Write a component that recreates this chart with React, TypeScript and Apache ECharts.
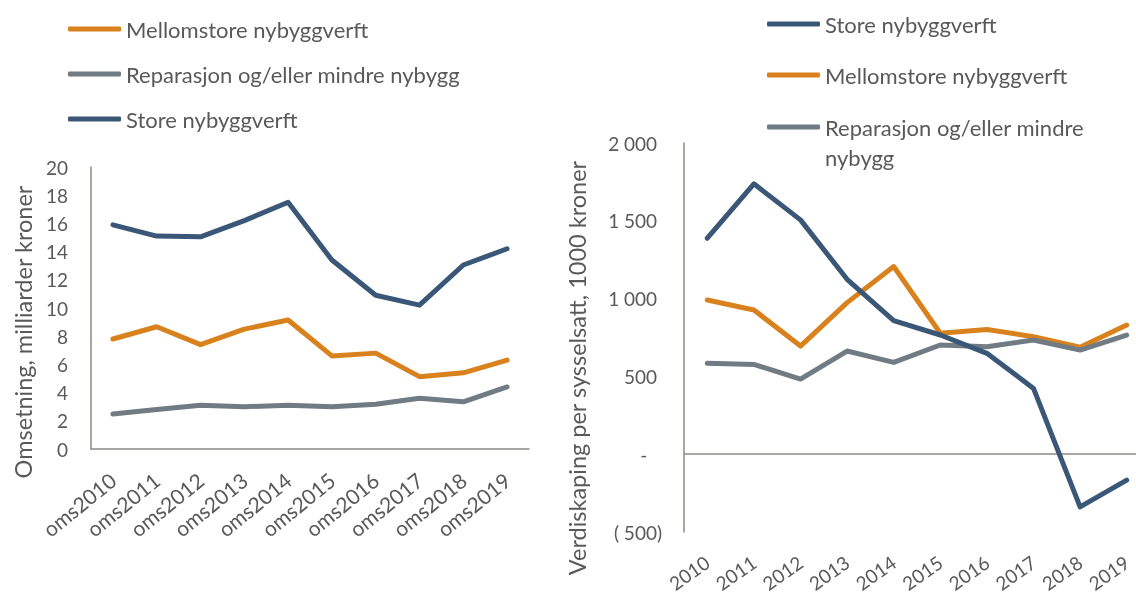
import React, { useEffect, useRef } from "react";
import * as echarts from "echarts";

const leftCategories = ["oms2010", "oms2011", "oms2012", "oms2013", "oms2014", "oms2015", "oms2016", "oms2017", "oms2018", "oms2019"];
const rightCategories = ["2010", "2011", "2012", "2013", "2014", "2015", "2016", "2017", "2018", "2019"];

const SERIES_STORE = "Store nybyggverft";
const SERIES_MELLOM = "Mellomstore nybyggverft";
const SERIES_REP = "Reparasjon og/eller mindre nybygg";

// Omsetning, milliarder kroner
const leftStore = [15.9, 15.1, 15.05, 16.2, 17.5, 13.4, 10.9, 10.2, 13.05, 14.2];
const leftMellom = [7.8, 8.67, 7.4, 8.5, 9.15, 6.6, 6.8, 5.13, 5.4, 6.3];
const leftRep = [2.48, 2.8, 3.1, 3.0, 3.1, 3.0, 3.17, 3.6, 3.35, 4.4];

// Verdiskaping per sysselsatt, 1000 kroner
const rightStore = [1388, 1738, 1506, 1124, 858, 766, 648, 423, -339, -167];
const rightMellom = [991, 927, 695, 974, 1206, 777, 802, 755, 687, 830];
const rightRep = [584, 577, 483, 663, 590, 702, 691, 734, 669, 766];

const leftTitle = "Omsetning, milliarder kroner";
const rightTitle = "Verdiskaping per sysselsatt, 1000 kroner";

const BLUE = "#3B5777";
const ORANGE = "#D9821D";
const GRAY = "#717B84";
const TEXT = "#595959";
const AXIS = "#8E8983";
const FONT = "Lato";

function fmtRight(v: number): string {
  if (v === 0) return "-   ";
  const abs = Math.abs(v);
  const s = abs >= 1000 ? Math.floor(abs / 1000) + " " + String(abs % 1000).padStart(3, "0") : String(abs);
  return v < 0 ? "( " + s + ")" : s + " ";
}

export default function App() {
  const ref = useRef<HTMLDivElement>(null);
  useEffect(() => {
    document.body.style.margin = "0";
    const chart = echarts.init(ref.current!, undefined, { renderer: "svg" });
    const lineStyle = (c: string) => ({ color: c, width: 5, cap: "round", join: "round" });
    const mkSeries = (name: string, data: number[], color: string, idx: number, extra: any = {}) => ({
      type: "line",
      name,
      data,
      xAxisIndex: idx,
      yAxisIndex: idx,
      symbol: "none",
      color,
      lineStyle: lineStyle(color),
      z: 3,
      ...extra,
    });
    const legendText = { color: TEXT, fontFamily: FONT, fontSize: 22, lineHeight: 26 };
    const legendBase = {
      orient: "vertical",
      icon: "roundRect",
      itemWidth: 53,
      itemHeight: 5,
      padding: 0,
      selectedMode: false,
      textStyle: legendText,
    };
    const option: any = {
      animation: false,
      textStyle: { fontFamily: FONT },
      grid: [
        { left: 91, right: 607, top: 167, bottom: 146, containLabel: false, outerBoundsMode: "none" },
        { left: 684, right: -14, top: 143, bottom: 63, containLabel: false, outerBoundsMode: "none" },
      ],
      legend: [
        { ...legendBase, left: 68, top: 16, itemGap: 19, data: [SERIES_MELLOM, SERIES_REP, SERIES_STORE] },
        { ...legendBase, left: 767, top: 11, data: [SERIES_STORE] },
        { ...legendBase, left: 767, top: 62, data: [SERIES_MELLOM] },
        {
          ...legendBase,
          left: 767,
          top: 82,
          data: [SERIES_REP],
          formatter: () => "\nReparasjon og/eller mindre\nnybygg",
          textStyle: { ...legendText, lineHeight: 30 },
        },
      ],
      xAxis: [
        {
          type: "category",
          gridIndex: 0,
          data: leftCategories,
          boundaryGap: true,
          axisLine: { show: true, lineStyle: { color: AXIS, width: 1.5 } },
          axisTick: { show: false },
          axisLabel: { rotate: 39, color: TEXT, fontSize: 21, fontFamily: FONT, margin: 28, interval: 0 },
        },
        {
          type: "category",
          gridIndex: 1,
          data: rightCategories,
          boundaryGap: true,
          axisLine: { show: false, onZero: false },
          axisTick: { show: false },
          axisLabel: { rotate: 35, color: TEXT, fontSize: 19, fontFamily: FONT, margin: 28, interval: 0 },
        },
      ],
      yAxis: [
        {
          type: "value",
          gridIndex: 0,
          min: 0,
          max: 20,
          interval: 2,
          splitLine: { show: false },
          axisLine: { show: true, lineStyle: { color: AXIS, width: 1.5 } },
          axisTick: { show: false },
          axisLabel: { color: TEXT, fontSize: 19, fontFamily: FONT, margin: 23 },
        },
        {
          type: "value",
          gridIndex: 1,
          min: -500,
          max: 2000,
          interval: 500,
          splitLine: { show: false },
          axisLine: { show: true, onZero: false, lineStyle: { color: AXIS, width: 1.5 } },
          axisTick: { show: false },
          axisLabel: { color: TEXT, fontSize: 19, fontFamily: FONT, margin: 22, formatter: fmtRight },
        },
      ],
      graphic: [
        {
          type: "text",
          x: 23,
          y: 332,
          rotation: Math.PI / 2,
          style: { text: leftTitle, fill: TEXT, fontSize: 23.5, fontFamily: FONT, align: "center", verticalAlign: "middle" },
        },
        {
          type: "text",
          x: 577,
          y: 368,
          rotation: Math.PI / 2,
          style: { text: rightTitle, fill: TEXT, fontSize: 23.5, fontFamily: FONT, align: "center", verticalAlign: "middle" },
        },
      ],
      series: [
        mkSeries(SERIES_MELLOM, leftMellom, ORANGE, 0),
        mkSeries(SERIES_REP, leftRep, GRAY, 0),
        mkSeries(SERIES_STORE, leftStore, BLUE, 0),
        mkSeries(SERIES_STORE, rightStore, BLUE, 1, {
          z: 4,
          markLine: {
            silent: true,
            symbol: "none",
            label: { show: false },
            lineStyle: { color: AXIS, width: 1.5, type: "solid" },
            data: [{ yAxis: 0 }],
            z: 1,
          },
        }),
        mkSeries(SERIES_MELLOM, rightMellom, ORANGE, 1),
        mkSeries(SERIES_REP, rightRep, GRAY, 1),
      ],
    };
    chart.setOption(option);
    return () => chart.dispose();
  }, []);
  return <div ref={ref} style={{ position: "fixed", left: 0, top: 0, width: 1136, height: 595 }} />;
}
